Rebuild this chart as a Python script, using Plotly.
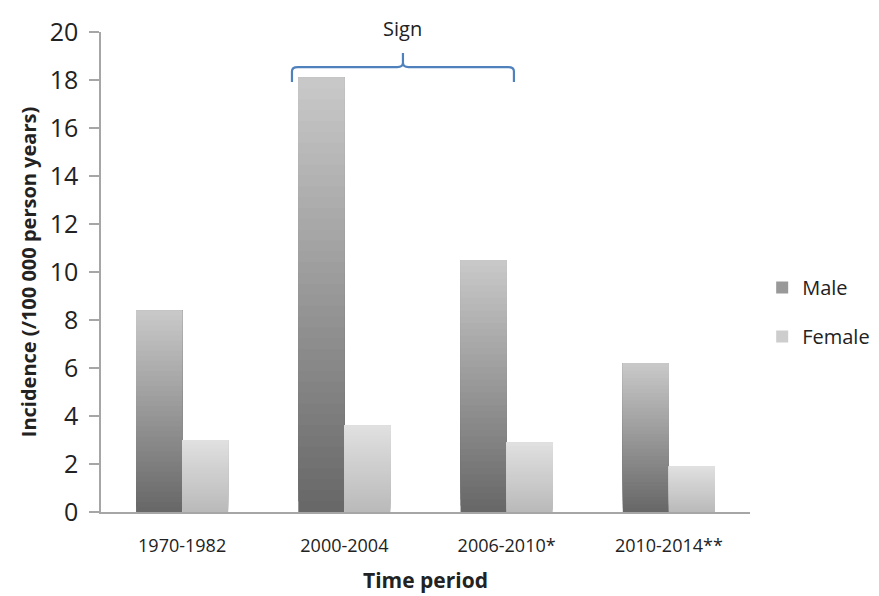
import plotly.graph_objects as go

categories = ["1970-1982", "2000-2004", "2006-2010*", "2010-2014**"]
male = [8.4, 18.1, 10.5, 6.2]
female = [3.0, 3.6, 2.9, 1.9]
y_ticks = [0, 2, 4, 6, 8, 10, 12, 14, 16, 18, 20]

FONT = "'Open Sans', sans-serif"
N = 40
BW = 0.284


def lerp(c0, c1, t):
    return "rgb(%d,%d,%d)" % tuple(round(a + (b - a) * t) for a, b in zip(c0, c1))


fig = go.Figure()

series = [
    ("Male", male, -BW, (104, 104, 104), (200, 200, 200)),
    ("Female", female, 0.0, (186, 186, 186), (224, 224, 224)),
]
for name, vals, off, c0, c1 in series:
    for k in range(N):
        fig.add_trace(go.Bar(
            x=categories,
            y=[v * (N - k) / N for v in vals],
            base=[v * k / N for v in vals],
            offset=off,
            width=BW,
            name=name,
            legendgroup=name,
            showlegend=(k == N // 2),
            marker=dict(color=lerp(c0, c1, k / (N - 1)), line=dict(width=0)),
            hoverinfo="skip",
        ))

# bracket over 2000-2004 .. 2006-2010 male bars
bc = "#4f81bd"
xl, xr = 0.677, 2.045
xm = (xl + xr) / 2
ytop, yend, ytick = 18.54, 17.92, 19.12
r = 0.035
path = (f"M {xl},{yend} L {xl},{ytop-0.18} Q {xl},{ytop} {xl+r},{ytop} "
        f"L {xm-r},{ytop} Q {xm},{ytop} {xm},{ytop+0.18} L {xm},{ytick} "
        f"M {xm},{ytop+0.18} Q {xm},{ytop} {xm+r},{ytop} "
        f"L {xr-r},{ytop} Q {xr},{ytop} {xr},{ytop-0.18} L {xr},{yend}")
fig.add_shape(type="path", path=path, xref="x", yref="y",
              line=dict(color=bc, width=2.2))

fig.add_annotation(text="Sign", x=xm, y=1.008, xref="x", yref="paper",
                   showarrow=False, yanchor="middle",
                   font=dict(family=FONT, size=20, color="#222"))

# page body has an 8px margin; margins compensate so the plot area lands at
# x 101..750, y 32..512 in the window
fig.update_layout(
    width=879, height=596,
    barmode="overlay",
    plot_bgcolor="white", paper_bgcolor="white",
    margin=dict(l=93, r=137, t=24, b=92, autoexpand=False),
    font=dict(family=FONT, color="#222"),
    legend=dict(xref="container", yref="container",
                x=0.858, y=0.49, xanchor="left", yanchor="middle",
                font=dict(family=FONT, size=20, color="#222"),
                itemwidth=30, tracegroupgap=20),
    xaxis=dict(
        type="category",
        range=[-0.5, 3.5],
        automargin=False,
        showline=True, linecolor="#a6a6a6", linewidth=1.5,
        ticks="", showgrid=False,
        ticklabelstandoff=17,
        tickfont=dict(family=FONT, size=18, color="#222"),
        title=dict(text="<b>Time period</b>", standoff=17,
                   font=dict(family=FONT, size=21, color="#222")),
    ),
    yaxis=dict(
        range=[0, 20],
        tickvals=y_ticks,
        automargin=False,
        showline=True, linecolor="#a6a6a6", linewidth=1.5,
        ticks="outside", ticklen=10, tickcolor="#a6a6a6", tickwidth=1.5,
        ticklabelstandoff=6,
        showgrid=False, zeroline=False,
        tickfont=dict(family=FONT, size=25, color="#222"),
        title=dict(text="<b>Incidence (/100 000 person years)</b>", standoff=8,
                   font=dict(family=FONT, size=20, color="#222")),
    ),
)

fig.write_html("out.html")
